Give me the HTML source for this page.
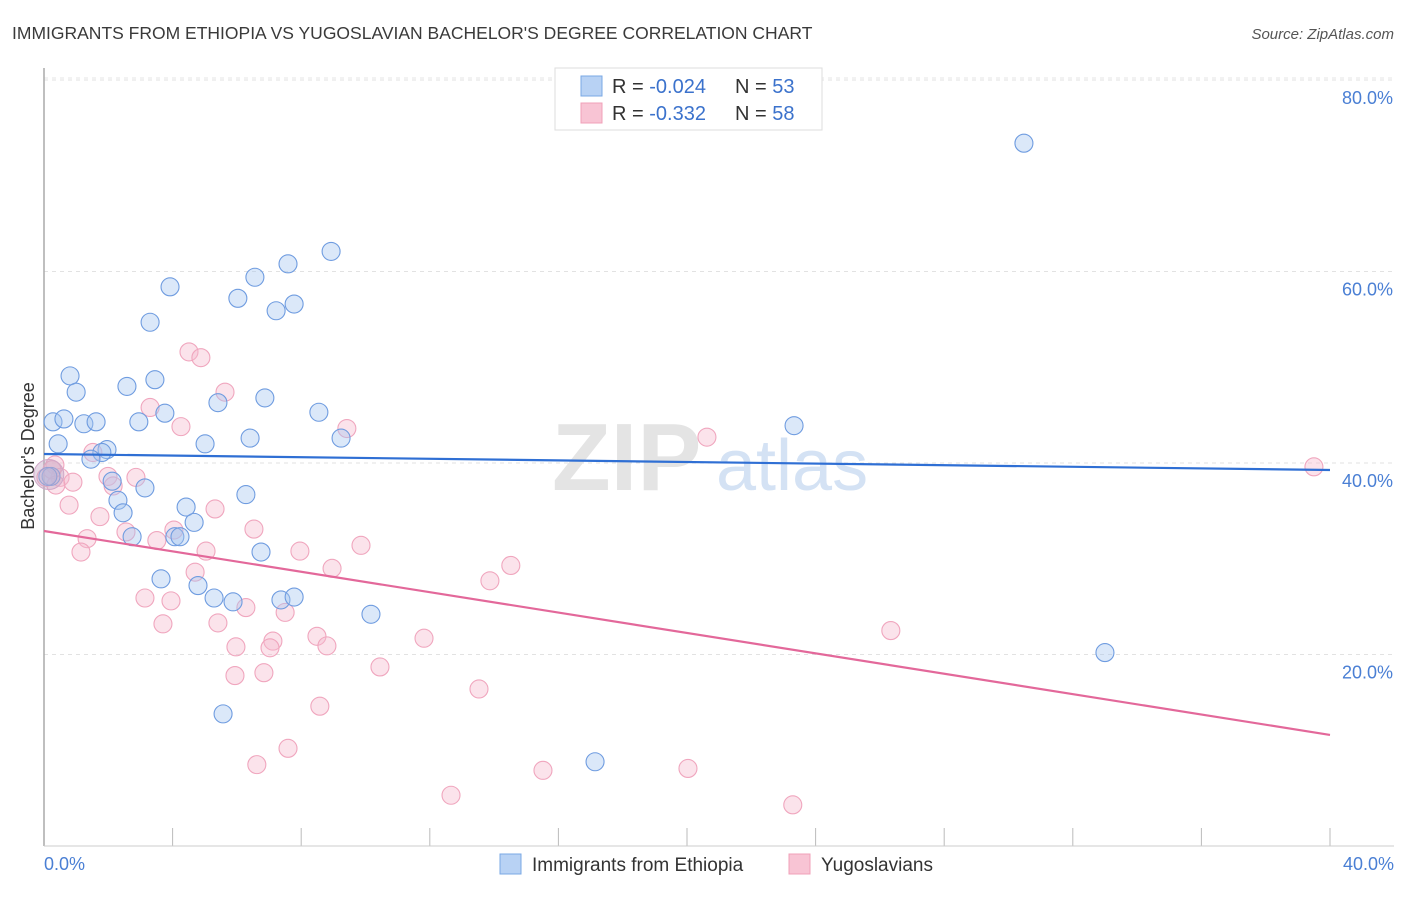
<!DOCTYPE html>
<html><head><meta charset="utf-8"><style>
body{margin:0;background:#fff;font-family:"Liberation Sans",sans-serif;}
svg text{font-family:"Liberation Sans",sans-serif;}
</style></head><body>
<svg id="chart" width="1406" height="892" xmlns="http://www.w3.org/2000/svg">
<text x="12" y="39" font-size="17.5" fill="#3a3a3a">IMMIGRANTS FROM ETHIOPIA VS YUGOSLAVIAN BACHELOR'S DEGREE CORRELATION CHART</text>
<text x="1394" y="39" font-size="15" fill="#555" font-style="italic" text-anchor="end">Source: ZipAtlas.com</text>
<g>
<text x="552" y="490" font-size="96" fill="#e4e4e4" font-family="Liberation Serif" font-weight="bold">ZIP</text>
<text x="716" y="490" font-size="72" fill="#d4e2f4">atlas</text>
</g>
<g id="grid"></g>
<g id="ticks"></g>
<line x1="44" y1="68" x2="44" y2="846" stroke="#aaa" stroke-width="1.5"/>
<line x1="44" y1="846" x2="1394" y2="846" stroke="#ccc" stroke-width="1"/>
<text transform="translate(34,456) rotate(-90)" font-size="18" fill="#333" text-anchor="middle">Bachelor's Degree</text>
<g id="points"></g>
<g id="trends"></g>
<text x="44" y="870" font-size="18" fill="#4a7fd4">0.0%</text>
<text x="1394" y="870" font-size="18" fill="#4a7fd4" text-anchor="end">40.0%</text>
<g>
<rect x="555" y="68" width="267" height="62" fill="#fff" stroke="#ddd"/>
<rect x="581" y="76" width="21" height="20" fill="#b8d2f4" stroke="#7aa8e4"/>
<rect x="581" y="103" width="21" height="20" fill="#f8c4d4" stroke="#f0a0b8"/>
<text x="612" y="93" font-size="20" fill="#333">R = <tspan fill="#3b72cc">-0.024</tspan></text>
<text x="735" y="93" font-size="20" fill="#333">N = <tspan fill="#3b72cc">53</tspan></text>
<text x="612" y="120" font-size="20" fill="#333">R = <tspan fill="#3b72cc"> -0.332</tspan></text>
<text x="735" y="120" font-size="20" fill="#333">N = <tspan fill="#3b72cc">58</tspan></text>
</g>
<g>
<rect x="500" y="854" width="21" height="20" fill="#b8d2f4" stroke="#7aa8e4"/>
<text x="532" y="871" font-size="19" fill="#333">Immigrants from Ethiopia</text>
<rect x="789" y="854" width="21" height="20" fill="#f8c4d4" stroke="#f0a0b8"/>
<text x="821" y="871" font-size="19" fill="#333">Yugoslavians</text>
</g>
</svg>
<script>
const yTicks=[20,40,60,80];
const yTickLabels=["20.0%","40.0%","60.0%","80.0%"];
const xTicks=[0,4,8,12,16,20,24,28,32,36,40];
const blueX=[30.48,8.93,7.59,6.56,3.92,6.03,7.78,7.22,3.30,0.81,1.00,3.45,2.58,6.87,5.41,3.76,8.55,0.28,0.62,1.24,1.62,2.95,23.33,6.41,5.01,9.24,0.44,1.96,1.80,1.46,0.22,2.12,3.14,6.28,2.30,4.42,2.46,4.67,2.74,4.07,4.23,6.75,3.64,4.79,5.29,5.88,7.37,7.78,10.17,33.0,5.57,17.14,0.12];
const blueY=[73.4,62.1,60.8,59.4,58.4,57.2,56.6,55.9,54.7,49.1,47.4,48.7,48.0,46.8,46.3,45.2,45.3,44.3,44.6,44.1,44.3,44.3,43.9,42.6,42.0,42.6,42.0,41.4,41.1,40.4,38.6,38.1,37.4,36.7,36.1,35.4,34.8,33.8,32.3,32.3,32.3,30.7,27.9,27.2,25.9,25.5,25.7,26.0,24.2,20.2,13.8,8.8,38.6];
const pinkX=[39.5,4.51,4.88,5.63,3.30,4.26,9.42,20.62,1.52,0.34,0.50,0.90,1.99,2.86,0.78,1.74,2.15,2.55,4.04,5.32,1.34,3.51,6.53,9.86,5.04,7.96,1.15,4.70,8.96,14.52,13.87,3.14,3.95,6.28,7.50,3.70,5.41,8.49,11.82,26.34,5.97,7.12,8.80,7.03,5.94,6.84,10.45,13.53,8.58,7.59,6.62,15.52,20.03,12.66,23.29,0.06,0.25,0.37];
const pinkY=[39.6,51.6,51.0,47.4,45.8,43.8,43.6,42.7,41.1,39.8,38.5,38.0,38.6,38.5,35.6,34.4,37.6,32.8,33.0,35.2,32.1,31.9,33.1,31.4,30.8,30.8,30.7,28.6,29.0,29.3,27.7,25.9,25.6,24.9,24.4,23.2,23.3,21.9,21.7,22.5,20.8,21.4,20.9,20.7,17.8,18.1,18.7,16.4,14.6,10.2,8.5,7.9,8.1,5.3,4.3,38.5,39.3,37.7];
const blueTrend=[40.94,39.27];
const pinkTrend=[32.9,11.6];
const NS="http://www.w3.org/2000/svg";
const sx=v=>44+v/40*1286;
const sy=v=>846-v*9.575;
function mk(tag,attrs,parent){const e=document.createElementNS(NS,tag);for(const k in attrs)e.setAttribute(k,attrs[k]);parent.appendChild(e);return e;}
const grid=document.getElementById('grid');
yTicks.forEach((t,i)=>{
 const l=mk('line',{x1:44,x2:1394,y1:sy(t),y2:sy(t),stroke:'#e2e2e2','stroke-dasharray':'4,4'},grid);
 
 
 const tx=mk('text',{x:1393,y:sy(t)+24,'font-size':18,fill:'#4a7fd4','text-anchor':'end'},grid);
 tx.textContent=yTickLabels[i];
 
 
});
const tl=mk('line',{x1:44,x2:1394,y1:78,y2:78,stroke:'#e6e6e6','stroke-dasharray':'4,4'},grid);


const ticks=document.getElementById('ticks');
xTicks.forEach(t=>{
 const l=mk('line',{x1:sx(t),x2:sx(t),y1:828,y2:846,stroke:'#bbb'},ticks);
 
 
});
const pts=document.getElementById('points');
pinkX.forEach((x,i)=>{
 const c=mk('circle',{cx:sx(x),cy:sy(pinkY[i]),r:9,fill:'rgba(246,184,204,0.4)',stroke:'#f0a6be','stroke-width':1.1},pts);
 
 
});
blueX.forEach((x,i)=>{
 const c=mk('circle',{cx:sx(x),cy:sy(blueY[i]),r:9,fill:'rgba(164,198,240,0.4)',stroke:'#6f9ce0','stroke-width':1.1},pts);
 
 
});
const big=mk('circle',{cx:sx(0.15),cy:sy(38.8),r:15,fill:'rgba(200,170,200,0.45)',stroke:'#d0a8c8'},pts);


const tr=document.getElementById('trends');
const b=mk('line',{x1:sx(0),y1:sy(blueTrend[0]),x2:sx(40),y2:sy(blueTrend[1]),stroke:'#2f6fd4','stroke-width':2.2},tr);


const p=mk('line',{x1:sx(0),y1:sy(pinkTrend[0]),x2:sx(40),y2:sy(pinkTrend[1]),stroke:'#e3689a','stroke-width':2.2},tr);


</script>
</body></html>
